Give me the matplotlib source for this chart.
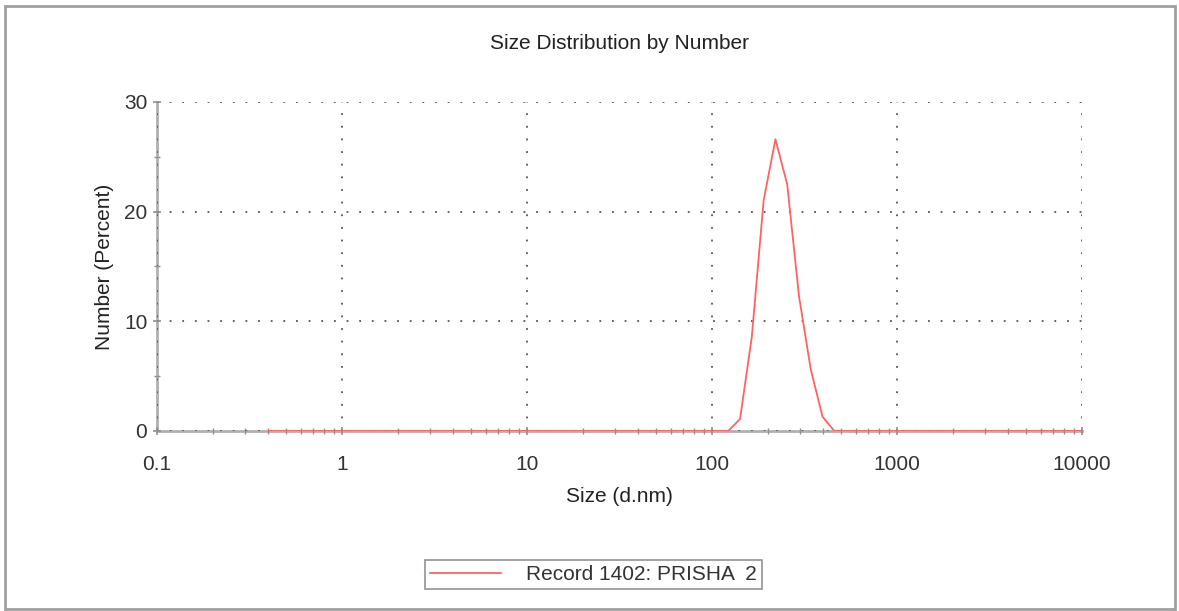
import matplotlib.pyplot as plt
import numpy as np
from matplotlib.patches import Rectangle
from matplotlib.ticker import LogLocator, FixedLocator, NullFormatter

# Size bins (d.nm) and number distribution (%)
sizes = [0.4, 1.0, 10.0, 100.0, 122.4, 141.8, 164.2, 190.1, 220.2, 255.0,
         295.3, 342.0, 396.1, 458.7, 531.2, 1000.0, 10000.0]
number = [0.0, 0.0, 0.0, 0.0, 0.0, 1.1, 8.6, 21.0, 26.6, 22.5,
          12.3, 5.6, 1.3, 0.0, 0.0, 0.0, 0.0]
x_ticks = [0.1, 1, 10, 100, 1000, 10000]
x_labels = ["0.1", "1", "10", "100", "1000", "10000"]
y_ticks = [0, 10, 20, 30]
y_minor = [5, 15, 25]
record = "Record 1402: PRISHA  2"

plt.rcParams['font.family'] = ['Liberation Sans', 'DejaVu Sans']
FS = 15

fig = plt.figure(figsize=(11.79, 6.11), dpi=100)
ax = fig.add_axes([0.1332, 0.2946, 0.7845, 0.5385])

# grey outer frame
fig.patches.append(Rectangle((0.004, 0.004), 0.993, 0.986, transform=fig.transFigure,
                             fill=False, edgecolor='#a0a0a0', linewidth=2))

ax.plot(sizes, number, color='#ff6262', linewidth=1.3, label=record, zorder=3)

ax.set_xscale('log')
ax.set_xlim(0.1, 10000)
ax.set_ylim(0, 30)
ax.xaxis.set_major_locator(FixedLocator(x_ticks))
ax.set_xticklabels(x_labels)
ax.xaxis.set_minor_locator(LogLocator(base=10, subs=np.arange(2, 10)))
ax.xaxis.set_minor_formatter(NullFormatter())
ax.yaxis.set_major_locator(FixedLocator(y_ticks))
ax.yaxis.set_minor_locator(FixedLocator(y_minor))

for s in ['top', 'right']:
    ax.spines[s].set_visible(False)
for s in ['left', 'bottom']:
    ax.spines[s].set_color('#b0b0b0')
    ax.spines[s].set_linewidth(2)

ax.tick_params(which='major', direction='inout', length=6, width=1.2,
               color='#909090', labelsize=FS, labelcolor='#333333')
ax.tick_params(axis='x', which='major', pad=14)
ax.tick_params(axis='y', which='major', pad=4)
ax.tick_params(which='minor', direction='inout', length=5, width=1.0,
               color='#909090')

ax.grid(True, which='major', linestyle=(0, (1, 6)), linewidth=1.3, color='#555555')
ax.set_axisbelow(False)

ax.set_title("Size Distribution by Number", fontsize=FS, color='#222222', pad=38)
ax.set_xlabel("Size (d.nm)", fontsize=FS, color='#222222', labelpad=10)
ax.set_ylabel("Number (Percent)", fontsize=FS, color='#222222', labelpad=7)

leg = fig.legend(loc='center', bbox_to_anchor=(0.5035, 0.0597), fontsize=FS,
                 frameon=True, fancybox=False, handlelength=3.4, handletextpad=1.2,
                 borderpad=0.25, borderaxespad=0)
leg.get_frame().set_edgecolor('#777777')
leg.get_frame().set_linewidth(1.2)
for t in leg.get_texts():
    t.set_color('#333333')

fig.savefig("out.png", dpi=100)
